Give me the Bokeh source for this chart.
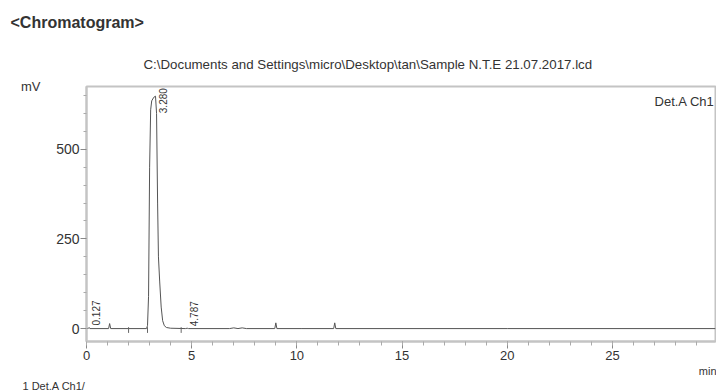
from bokeh.plotting import figure
from bokeh.models import Label, FixedTicker, ColumnDataSource, Range1d, Title, LinearAxis
from bokeh.core.properties import value
from bokeh.embed import file_html
from bokeh.resources import INLINE

# ---- data ----
time_min = [0.0, 0.10, 0.127, 0.16, 1.05, 1.10, 1.15, 2.85, 2.90, 2.95, 3.00, 3.05,
            3.10, 3.20, 3.28, 3.33, 3.38, 3.42, 3.48, 3.55, 3.62, 3.70, 3.80, 4.00,
            4.70, 4.787, 4.85, 6.8, 7.0, 7.2, 7.4, 7.6, 8.95, 9.00, 9.05, 10.2,
            11.75, 11.80, 11.85, 20.0, 29.9]
signal_mv = [0, 1, 3, 0, 0, 14, 0, 0, 8, 90, 450, 610,
             635, 645, 648, 600, 350, 200, 130, 60, 22, 8, 3, 1,
             0, 1, 0, 0, 2, 0, 2, 0, 0, 16, 0, 0,
             0, 16, 0, 0, 0]
peak_rt = [0.127, 3.280, 4.787]
peak_height = [3, 648, 1]
peak_text = ["0.127", "3.280", "4.787"]
marker_rt = [2.0, 2.9, 4.5]
x_major = [0, 5, 10, 15, 20, 25]
x_minor = list(range(0, 30))
y_major = [0, 250, 500]
y_minor = [50, 100, 150, 200, 300, 350, 400, 450, 550, 600, 650]

FONT = "Liberation Sans"
GRAY = "#c4c4c4"
TXT = "#333333"

X_END, Y_START, Y_END = 29.9, -36, 675

p = figure(width=716, height=391, output_backend="svg", toolbar_location=None,
           x_range=Range1d(0, X_END), y_range=Range1d(Y_START, Y_END),
           min_border_left=86, min_border_right=1, min_border_top=86, min_border_bottom=49)
p.grid.visible = False
p.outline_line_color = GRAY
p.outline_line_width = 2
p.background_fill_color = "white"
p.border_fill_color = "white"

for ax in (p.xaxis[0], p.yaxis[0]):
    ax.axis_line_color = GRAY
    ax.axis_line_width = 2
    ax.major_tick_line_color = "#888888"
    ax.minor_tick_line_color = "#aaaaaa"
    ax.major_label_text_font = FONT
    ax.major_label_text_color = TXT

p.yaxis.major_label_text_font_size = "14px"
p.xaxis.major_label_text_font_size = "13px"
p.xaxis.ticker = FixedTicker(ticks=x_major, minor_ticks=x_minor)
p.yaxis.ticker = FixedTicker(ticks=y_major, minor_ticks=y_minor)
p.xaxis.major_tick_in = 0
p.xaxis.major_tick_out = 7
p.xaxis.minor_tick_in = 0
p.xaxis.minor_tick_out = 4
p.xaxis.major_label_standoff = 2
p.yaxis.major_tick_in = 0
p.yaxis.major_tick_out = 6
p.yaxis.minor_tick_in = 0
p.yaxis.minor_tick_out = 3
p.yaxis.major_label_standoff = 1

# unit label "mV" as a second left axis with a single labelled tick at the top
unit_axis = LinearAxis(ticker=FixedTicker(ticks=[Y_END], minor_ticks=[]),
                       major_label_overrides={Y_END: "mV"},
                       axis_line_color=None, major_tick_line_color=None,
                       minor_tick_line_color=None, major_label_standoff=7,
                       major_label_text_font=FONT, major_label_text_color=TXT,
                       major_label_text_font_size="13px")
p.add_layout(unit_axis, "left")

# trace
p.line(time_min, signal_mv, line_color="#555555", line_width=1)

# peak start/end markers
p.segment(x0=marker_rt, y0=[-12] * len(marker_rt), x1=marker_rt, y1=[4] * len(marker_rt),
          line_color="#666666", line_width=1)

# peak labels (clamped below top of frame)
label_len_mv = 80
label_y = [min(h, Y_END - label_len_mv) for h in peak_height]
src = ColumnDataSource(dict(x=peak_rt, y=label_y, t=peak_text))
p.text(x="x", y="y", text="t", source=src, angle=1.5708, text_align="left",
       text_baseline="middle", x_offset=7, y_offset=-2,
       text_font=value(FONT), text_font_size="10px", text_color=TXT)

# detector label inside the frame
p.add_layout(Label(x=628, y=240, x_units="screen", y_units="screen", text="Det.A Ch1",
                   text_font=FONT, text_font_size="13px", text_color=TXT,
                   text_align="right", text_baseline="middle"))

def title(txt, place, size, align="left", offset=0, standoff=0, bold=False):
    p.add_layout(Title(text=txt, align=align, offset=offset, standoff=standoff,
                       text_font=FONT, text_font_size=size, text_color=TXT,
                       text_font_style="bold" if bold else "normal"), place)

# above: first added is closest to the frame
title(" ", "above", "10px", standoff=2)           # spacer row
title("C:\\Documents and Settings\\micro\\Desktop\\tan\\Sample N.T.E 21.07.2017.lcd",
      "above", "13.3px", offset=57, standoff=0)
title(" ", "above", "10px", standoff=11)          # spacer row
title("<Chromatogram>", "above", "16px", offset=-76, standoff=0, bold=True)
# below
title("min", "below", "11px", align="right", offset=-1, standoff=1)
title("1  Det.A Ch1/", "below", "11px", offset=-64, standoff=0)

open("out.html", "w").write(file_html(p, INLINE))
